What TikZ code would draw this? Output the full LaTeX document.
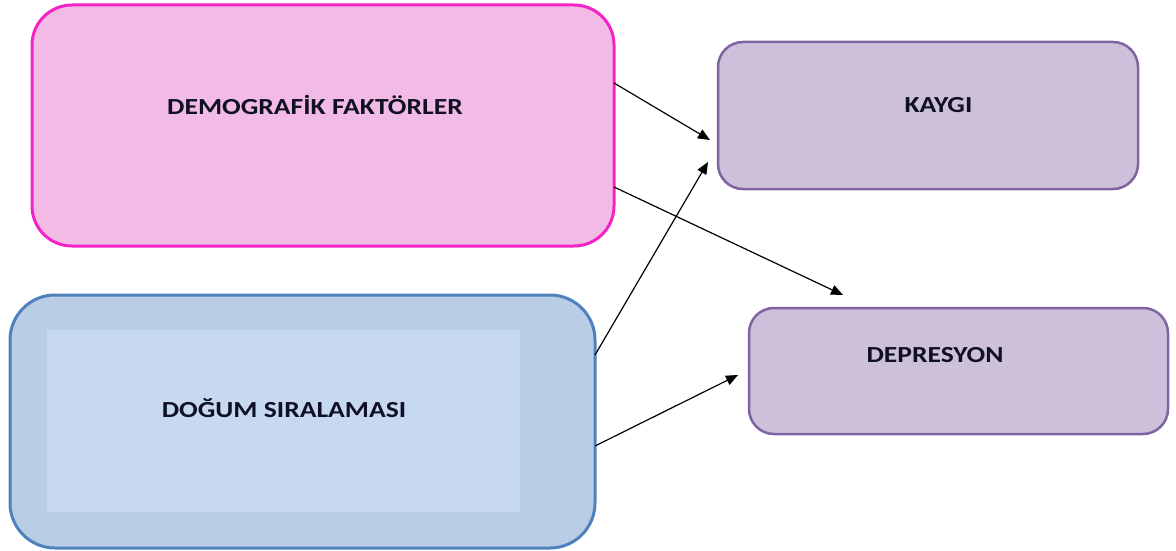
\documentclass[tikz,border=0pt]{standalone}
\usepackage{fontspec}
\setmainfont{Carlito}
\usetikzlibrary{arrows.meta,calc}
\definecolor{pinkfill}{HTML}{F2BBE5}
\definecolor{pinkline}{HTML}{F522C6}
\definecolor{bluefill}{HTML}{B9CDE5}
\definecolor{blueinner}{HTML}{C6D9F1}
\definecolor{blueline}{HTML}{4F81BD}
\definecolor{purpfill}{HTML}{CCC0DA}
\definecolor{purpline}{HTML}{8064A2}
\definecolor{txt}{HTML}{101024}
\newcommand{\stxt}[1]{\scalebox{1.2}[1]{#1}}
\tikzset{
  box/.style={draw, rectangle, inner sep=0pt, outer sep=0pt},
  lbl/.style={font=\bfseries\fontsize{23pt}{27pt}\selectfont, text=txt, inner sep=0pt, anchor=base},
  arr/.style={-{Triangle[length=12pt,width=10pt]}, line width=1.2pt, black}
}
\begin{document}
\begin{tikzpicture}[x=1pt,y=-1pt]
\useasboundingbox (0,0) rectangle (1176,551);
% boxes
\node[box, fill=pinkfill, draw=pinkline, line width=3pt, rounded corners=40pt,
      minimum width=582pt, minimum height=241pt] (pink) at (323,125.5) {};
\node[box, fill=bluefill, draw=blueline, line width=3pt, rounded corners=45pt,
      minimum width=585pt, minimum height=253pt] (blue) at (302.5,421.5) {};
\node[box, draw=none, fill=blueinner, minimum width=473pt, minimum height=182pt] (blueinner) at (283.5,421) {};
\node[box, fill=purpfill, draw=purpline, line width=2.5pt, rounded corners=25pt,
      minimum width=420pt, minimum height=147pt] (kaygi) at (928,115.5) {};
\node[box, fill=purpfill, draw=purpline, line width=2.5pt, rounded corners=25pt,
      minimum width=419pt, minimum height=126pt] (dep) at (958.5,371) {};
% labels (baseline positions)
\node[lbl] (tpink) at (315,114) {\stxt{DEMOGRAF\.IK FAKTÖRLER}};
\node[lbl] (tblue) at (284,417) {\stxt{DOĞUM SIRALAMASI}};
\node[lbl] (tkaygi) at (938.5,113) {\stxt{KAYGI}};
\node[lbl] (tdep) at (935,362) {\stxt{DEPRESYON}};
% arrow ends
\coordinate (e1) at (710,140);
\coordinate (e2) at (843,295);
\coordinate (e3) at (708,162);
\coordinate (e4) at (738,375);
\draw[arr] (pink.east |- 0,83) -- (e1);
\draw[arr] (pink.east |- 0,187) -- (e2);
\draw[arr] (blue.east |- 0,355) -- (e3);
\draw[arr] (blue.east |- 0,446) -- (e4);
\end{tikzpicture}
\end{document}
